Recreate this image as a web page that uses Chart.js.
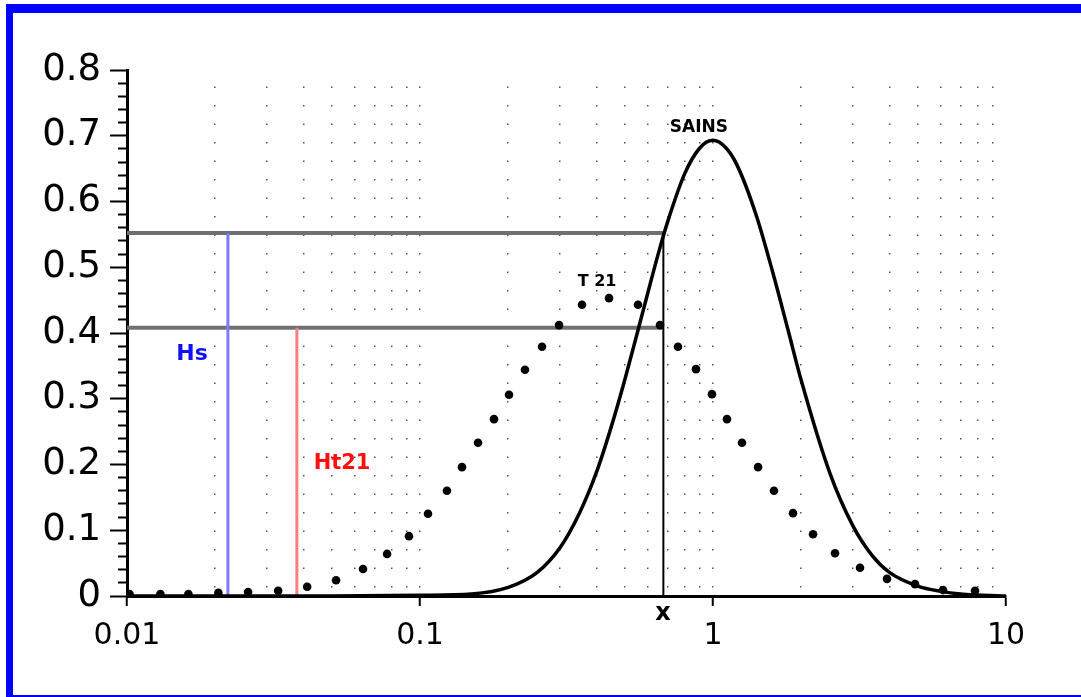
<!DOCTYPE html>
<html lang="fr">
<head>
<meta charset="utf-8">
<title>SAINS / T 21</title>
<script src="https://cdn.jsdelivr.net/npm/chart.js@4.4.1/dist/chart.umd.min.js"></script>
<style>
  html, body { margin: 0; padding: 0; background: #fff; }
  canvas { display: block; }
</style>
</head>
<body>
<canvas id="chart" width="1081" height="697"></canvas>
<script>
// Courbe SAINS (trait plein)
const sainsX = [0.01, 0.05, 0.1, 0.15, 0.2, 0.25, 0.3, 0.35, 0.4, 0.45, 0.5, 0.55, 0.6, 0.65, 0.7, 0.8, 0.9, 1.0,
                1.1, 1.2, 1.4, 1.6, 1.8, 2.0, 2.5, 3.0, 3.5, 4.0, 5.0, 6.0, 7.0, 8.0, 10];
const sainsY = [0, 0, 0.001, 0.003, 0.013, 0.035, 0.073, 0.126, 0.188, 0.258, 0.329, 0.398, 0.462, 0.520, 0.569, 0.642, 0.681, 0.693,
                0.683, 0.658, 0.581, 0.492, 0.406, 0.328, 0.188, 0.107, 0.061, 0.036, 0.015, 0.007, 0.003, 0.0015, 0];

// Courbe T 21 (pointillés)
const t21X = [0.0102, 0.013, 0.0162, 0.0205, 0.0259, 0.0328, 0.0412, 0.0517, 0.0639, 0.0772, 0.0917, 0.1065, 0.1236,
              0.1391, 0.1578, 0.1789, 0.2013, 0.2282, 0.2609, 0.2982, 0.3572, 0.4417, 0.5546, 0.6593, 0.7594, 0.8747,
              0.992, 1.116, 1.256, 1.425, 1.615, 1.875, 2.195, 2.609, 3.175, 3.926, 4.892, 6.096, 7.838];
const t21Y = [0.003, 0.003, 0.003, 0.005, 0.006, 0.008, 0.014, 0.024, 0.041, 0.064, 0.091, 0.125, 0.160,
              0.196, 0.233, 0.269, 0.306, 0.344, 0.379, 0.412, 0.443, 0.453, 0.443, 0.412, 0.379, 0.345,
              0.307, 0.269, 0.233, 0.196, 0.160, 0.126, 0.094, 0.065, 0.043, 0.026, 0.018, 0.009, 0.008];

// Seuils et coupure
const seuilHs = 0.552;
const seuilHt21 = 0.408;
const coupureX = 0.677;
const hsX = 0.0221;
const ht21X = 0.038;

// Graduations
const xGridValues = [0.01, 0.02, 0.03, 0.04, 0.05, 0.06, 0.07, 0.08, 0.09,
                     0.1, 0.2, 0.3, 0.4, 0.5, 0.6, 0.7, 0.8, 0.9,
                     1, 2, 3, 4, 5, 6, 7, 8, 9, 10];
const xTickValues = [0.01, 0.1, 1, 10];
const xTickLabels = ['0.01', '0.1', '1', '10'];
const yTickLabels = ['0', '0.1', '0.2', '0.3', '0.4', '0.5', '0.6', '0.7', '0.8'];

// Textes posés dans le graphique (coordonnées en unités des axes)
const annotations = [
    { text: 'SAINS', x: 0.895, y: 0.713 },
    { text: 'T 21', x: 0.402, y: 0.478 },
    { text: 'Hs', x: 0.01667, y: 0.368 },
    { text: 'Ht21', x: 0.0542, y: 0.201 },
    { text: 'x', x: 0.675, y: -0.027 }
];
const annotationStyles = {
    'SAINS': { font: 'bold 17px "DejaVu Sans"', color: '#000' },
    'T 21': { font: 'bold 16px "DejaVu Sans"', color: '#000' },
    'Hs': { font: 'bold 22px "DejaVu Sans"', color: '#1010ff' },
    'Ht21': { font: 'bold 21px "DejaVu Sans"', color: '#ff1010' },
    'x': { font: 'bold 24px "DejaVu Sans"', color: '#000' }
};

function isMajorX(v) {
    return xTickValues.some(t => Math.abs(t - v) / t < 1e-6);
}

// fond blanc, textes et cadre bleu
const decorPlugin = {
    id: 'decor',
    beforeDraw(chart) {
        const ctx = chart.ctx;
        ctx.save();
        ctx.fillStyle = '#fff';
        ctx.fillRect(0, 0, chart.width, chart.height);
        ctx.restore();
    },
    afterDraw(chart) {
        const { ctx, scales: { x, y } } = chart;
        annotations.forEach(a => {
            const st = annotationStyles[a.text];
            ctx.save();
            ctx.font = st.font;
            ctx.fillStyle = st.color;
            ctx.textAlign = 'center';
            ctx.textBaseline = 'middle';
            ctx.fillText(a.text, x.getPixelForValue(a.x), y.getPixelForValue(a.y));
            ctx.restore();
        });
        ctx.save();
        ctx.fillStyle = '#0000ff';
        ctx.fillRect(6, 4, chart.width - 6, 9);
        ctx.fillRect(6, 4, 7, chart.height - 4);
        ctx.fillRect(6, chart.height - 2, chart.width - 6, 2);
        ctx.restore();
    }
};

const toPoints = (xs, ys) => xs.map((v, i) => ({ x: v, y: ys[i] }));

const ctx = document.getElementById('chart').getContext('2d');
new Chart(ctx, {
    type: 'scatter',
    data: {
        datasets: [
            {
                label: 'SAINS',
                data: toPoints(sainsX, sainsY),
                showLine: true,
                borderColor: '#000',
                borderWidth: 3.5,
                pointRadius: 0,
                cubicInterpolationMode: 'monotone'
            },
            {
                label: 'T 21',
                data: toPoints(t21X, t21Y),
                showLine: false,
                pointRadius: 4.3,
                pointBorderWidth: 0,
                backgroundColor: '#000'
            },
            {
                label: 'coupure',
                data: [{ x: coupureX, y: 0 }, { x: coupureX, y: seuilHs }],
                showLine: true,
                borderColor: '#000',
                borderWidth: 2,
                pointRadius: 0
            },
            {
                label: 'Hs',
                data: [{ x: hsX, y: 0 }, { x: hsX, y: seuilHs }],
                showLine: true,
                borderColor: '#7b7bff',
                borderWidth: 3,
                pointRadius: 0
            },
            {
                label: 'Ht21',
                data: [{ x: ht21X, y: 0 }, { x: ht21X, y: seuilHt21 }],
                showLine: true,
                borderColor: '#f58080',
                borderWidth: 3,
                pointRadius: 0
            },
            {
                label: 'seuil Hs',
                data: [{ x: xTickValues[0], y: seuilHs }, { x: coupureX, y: seuilHs }],
                showLine: true,
                borderColor: '#707070',
                borderWidth: 4,
                pointRadius: 0
            },
            {
                label: 'seuil Ht21',
                data: [{ x: xTickValues[0], y: seuilHt21 }, { x: coupureX, y: seuilHt21 }],
                showLine: true,
                borderColor: '#707070',
                borderWidth: 4,
                pointRadius: 0
            }
        ]
    },
    options: {
        responsive: false,
        animation: false,
        events: [],
        layout: { padding: { left: 0, top: 70, right: 75, bottom: 0 } },
        plugins: {
            legend: { display: false },
            tooltip: { enabled: false }
        },
        scales: {
            x: {
                type: 'logarithmic',
                min: 0.01,
                max: 10,
                afterBuildTicks: (scale) => {
                    scale.ticks = xGridValues.map(v => ({ value: v, major: isMajorX(v) }));
                },
                afterFit: (scale) => { scale.height = 101; },
                ticks: {
                    autoSkip: false,
                    maxRotation: 0,
                    padding: 12,
                    color: '#000',
                    font: { family: 'DejaVu Sans', size: 30 },
                    callback: function(value) {
                        const i = xTickValues.findIndex(t => Math.abs(t - value) / t < 1e-6);
                        return i >= 0 ? xTickLabels[i] : '';
                    }
                },
                grid: {
                    drawOnChartArea: true,
                    lineWidth: 1.5,
                    color: (c) => {
                        if (!c.tick) return 'rgba(0,0,0,0)';
                        const v = c.tick.value;
                        return (v === xGridValues[0] || v === xGridValues[xGridValues.length - 1]) ? 'rgba(0,0,0,0)' : '#555';
                    },
                    tickLength: 10,
                    tickWidth: 2,
                    tickColor: (c) => (c.tick && isMajorX(c.tick.value)) ? '#000' : 'rgba(0,0,0,0)'
                },
                border: { display: true, color: '#000', width: 3, dash: [1.5, 17], dashOffset: 2 }
            },
            y: {
                min: 0,
                max: 0.8,
                afterFit: (scale) => { scale.width = 127; },
                ticks: {
                    stepSize: 0.02,
                    autoSkip: false,
                    padding: 9,
                    color: '#000',
                    font: { family: 'DejaVu Sans', size: 37 },
                    callback: function(value) {
                        const k = value * 10;
                        return Math.abs(k - Math.round(k)) < 1e-6 ? yTickLabels[Math.round(k)] : '';
                    }
                },
                grid: {
                    drawOnChartArea: false,
                    tickLength: 17,
                    tickWidth: 2,
                    tickColor: '#000',
                    tickBorderDash: (c) => {
                        if (!c.tick) return [];
                        const k = c.tick.value * 10;
                        return Math.abs(k - Math.round(k)) < 1e-6 ? [] : [0, 8, 20, 0];
                    }
                },
                border: { display: true, color: '#000', width: 3 }
            }
        }
    },
    plugins: [decorPlugin]
});
</script>
</body>
</html>
